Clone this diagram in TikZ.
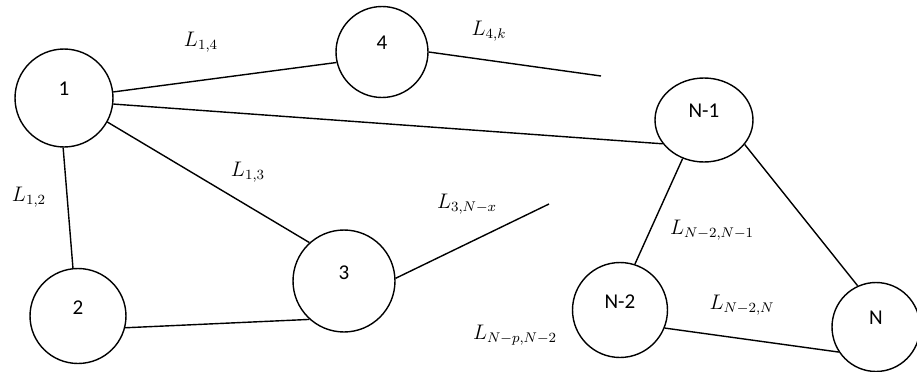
\documentclass[tikz,border=0pt]{standalone}
\usepackage{amsmath}
\usepackage{fontspec}
\usepackage{tikz}
\usetikzlibrary{shapes.geometric}
\newfontfamily\sitefont{Carlito}

\begin{document}
\begin{tikzpicture}[x=0.02cm,y=-0.02cm,line width=0.8pt,
    site/.style 2 args={draw,ellipse,inner sep=0pt,minimum width=#1,minimum height=#2,
      font=\sitefont\fontsize{12}{14}\selectfont,text depth=10pt},
    lbl/.style={font=\large,inner sep=0pt}]
  \useasboundingbox (0,0) rectangle (917,372);
  % stations
  \node[site={1.96cm}{1.96cm}] (s1) at (64,98) {1};
  \node[site={1.84cm}{1.82cm}] (s4) at (382,52) {4};
  \node[site={1.92cm}{1.90cm}] (s2) at (78,316) {2};
  \node[site={2.04cm}{2.04cm}] (s3) at (344,281) {3};
  \node[site={1.96cm}{1.68cm}] (sNa) at (704,120) {N-1};
  \node[site={1.90cm}{1.90cm}] (sNb) at (620,310) {N-2};
  \node[site={1.76cm}{1.78cm}] (sN) at (876,327) {N};
  % loose ends
  \coordinate (e4) at (601,76);
  \coordinate (e3) at (549,204);
  % links
  \draw (s1.7.5) -- (s4.193);
  \draw (s4.0) -- (e4);
  \draw (s1.353) -- (sNa.210.7);
  \draw (s1.331) -- (s3.132.6);
  \draw (s1.269) -- (s2.96);
  \draw (s2.346) -- (s3.228.8);
  \draw (s3.3) -- (e3);
  \draw (sNa.241.2) -- (sNb.72.3);
  \draw (sNa.329.8) -- (sN.114.3);
  \draw (sNb.338) -- (sN.214.3);
  % labels
  \node[lbl] (l14) at (201,42) {$L_{1,4}$};
  \node[lbl] (l4k) at (489,31) {$L_{4,k}$};
  \node[lbl] (l13) at (248,172) {$L_{1,3}$};
  \node[lbl] (l12) at (29,197) {$L_{1,2}$};
  \node[lbl] (l3x) at (467,204) {$L_{3,N-x}$};
  \node[lbl] (lpN) at (515,335) {$L_{N-p,N-2}$};
  \node[lbl] (lNN1) at (712,230) {$L_{N-2,N-1}$};
  \node[lbl] (lNN) at (742,305) {$L_{N-2,N}$};
\end{tikzpicture}
\end{document}
